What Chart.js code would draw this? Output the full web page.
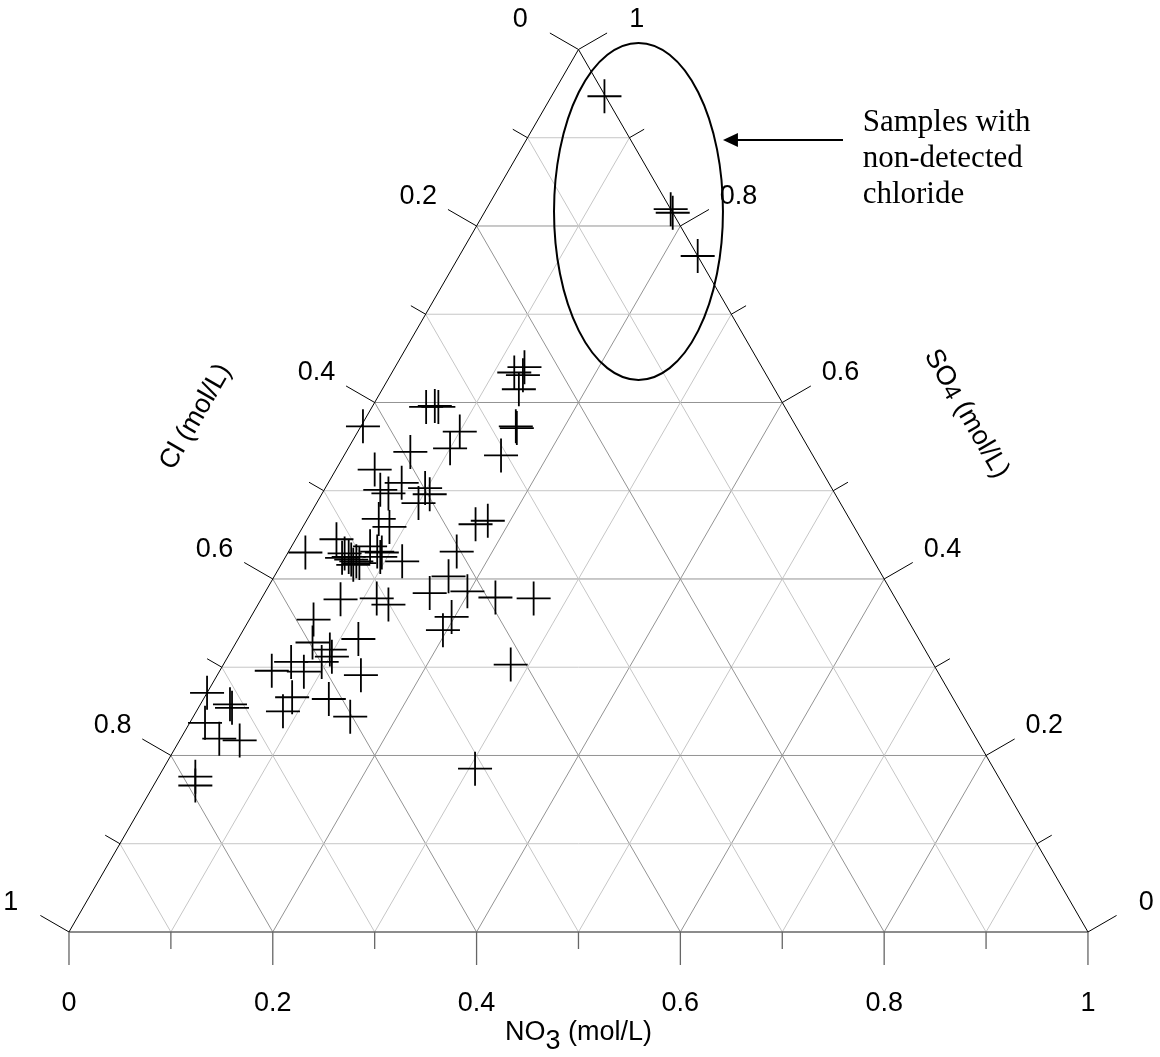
<!DOCTYPE html>
<html>
<head>
<meta charset="utf-8">
<script src="https://cdn.jsdelivr.net/npm/chart.js@4/dist/chart.umd.min.js"></script>
<style>
  html, body { margin: 0; padding: 0; background: #fff; }
  canvas { display: block; }
</style>
</head>
<body>
<canvas id="ternario" width="1160" height="1057"></canvas>
<script>
// fracciones molares (Cl = 1 - NO3 - SO4)
const no3 = [0.052, 0.181, 0.185, 0.234, 0.127, 0.120, 0.130, 0.134, 0.152, 0.154,
  0.154, 0.053, 0.061, 0.065, 0.100, 0.100, 0.002, 0.063, 0.038, 0.072,
  0.055, 0.065, 0.098, 0.106, 0.100, 0.070, 0.085, 0.168, 0.178, 0.165,
  0.017, 0.117, 0.171, 0.162, 0.198, 0.229, 0.267, 0.197, 0.196, 0.078,
  0.113, 0.128, 0.063, 0.118, 0.075, 0.096, 0.102, 0.095, 0.065, 0.051,
  0.083, 0.141, 0.086, 0.085, 0.123, 0.154, 0.000, 0.029, 0.033, 0.015,
  0.038, 0.059, 0.036, 0.041, 0.306, 0.282, 0.040, 0.056, 0.062, 0.066,
  0.071, 0.072, 0.076, 0.056, 0.077, 0.087, 0.093, 0.092];
const so4 = [0.947, 0.819, 0.815, 0.766, 0.640, 0.634, 0.631, 0.615, 0.573, 0.571,
  0.540, 0.595, 0.596, 0.595, 0.567, 0.548, 0.573, 0.544, 0.524, 0.509,
  0.501, 0.497, 0.503, 0.496, 0.486, 0.468, 0.459, 0.462, 0.466, 0.431,
  0.430, 0.420, 0.403, 0.384, 0.386, 0.379, 0.378, 0.357, 0.342, 0.377,
  0.378, 0.371, 0.354, 0.332, 0.328, 0.320, 0.312, 0.306, 0.306, 0.296,
  0.295, 0.291, 0.266, 0.250, 0.264, 0.244, 0.271, 0.258, 0.254, 0.237,
  0.219, 0.217, 0.176, 0.166, 0.185, 0.303, 0.445, 0.429, 0.425, 0.422,
  0.416, 0.420, 0.418, 0.424, 0.437, 0.431, 0.425, 0.430];

const tickValues = [0, 0.2, 0.4, 0.6, 0.8, 1];
const tickLabels = ['0', '0.2', '0.4', '0.6', '0.8', '1'];
const gridSteps = [0.1, 0.2, 0.3, 0.4, 0.5, 0.6, 0.7, 0.8, 0.9];
const minorTicks = [0.1, 0.3, 0.5, 0.7, 0.9];

const H = Math.sqrt(3) / 2;
const TICK = 0.0324, TICK_MENOR = 0.0167, ETIQ = 0.066;

// NO3 a la derecha, SO4 arriba, Cl abajo a la izquierda
function punto(n, s) {
  return { x: n + s / 2, y: s * H };
}
const normalIzq = { x: -H, y: 0.5 };
const normalDer = { x: H, y: 0.5 };
const normalAbajo = { x: 0, y: -1 };

function desplazar(p, d, len) {
  return { x: p.x + d.x * len, y: p.y + d.y * len };
}

function linea(a, b, color, ancho) {
  return {
    type: 'scatter',
    data: [a, b],
    showLine: true,
    borderColor: color,
    borderWidth: ancho,
    pointRadius: 0,
    pointHoverRadius: 0
  };
}

const datasets = [];

datasets.push({
  type: 'scatter',
  label: 'Muestras',
  data: no3.map((n, i) => punto(n, so4[i])),
  pointStyle: 'cross',
  pointRadius: 17,
  pointHoverRadius: 17,
  borderColor: '#000',
  backgroundColor: '#000',
  borderWidth: 1.8
});

// bordes del triangulo
datasets.push(linea(punto(0, 0), punto(0, 1), '#000', 1));
datasets.push(linea(punto(1, 0), punto(0, 1), '#000', 1));
datasets.push(linea(punto(0, 0), punto(1, 0), '#666', 1.5));

// marcas de los ejes
tickValues.concat(minorTicks).forEach(v => {
  const len = minorTicks.includes(v) ? TICK_MENOR : TICK;
  const pb = punto(v, 0);
  datasets.push(linea(pb, desplazar(pb, normalAbajo, len), '#666', 1.3));
  const pl = punto(0, 1 - v);
  datasets.push(linea(pl, desplazar(pl, normalIzq, len), '#000', 1));
  const pr = punto(1 - v, v);
  datasets.push(linea(pr, desplazar(pr, normalDer, len), '#000', 1));
});

// reticula
gridSteps.forEach((k, i) => {
  const color = (i % 2 === 1) ? '#939393' : '#c6c6c6';
  datasets.push(linea(punto(0, k), punto(1 - k, k), color, 1));
  datasets.push(linea(punto(k, 0), punto(k, 1 - k), color, 1));
  datasets.push(linea(punto(1 - k, 0), punto(0, 1 - k), color, 1));
});

const textos = {
  id: 'textos',
  afterDatasetsDraw(chart) {
    const ctx = chart.ctx;
    const sx = chart.scales.x, sy = chart.scales.y;
    const px = p => ({ x: sx.getPixelForValue(p.x), y: sy.getPixelForValue(p.y) });
    const escala = sx.getPixelForValue(1) - sx.getPixelForValue(0);

    ctx.save();
    ctx.fillStyle = '#000';
    ctx.font = '27px "Liberation Sans", Arial, sans-serif';
    ctx.textAlign = 'center';
    ctx.textBaseline = 'middle';
    tickValues.forEach((v, i) => {
      let p = px(desplazar(punto(v, 0), normalAbajo, ETIQ));
      ctx.fillText(tickLabels[i], p.x, p.y + 4);
      p = px(desplazar(punto(0, 1 - v), normalIzq, ETIQ));
      ctx.fillText(tickLabels[i], p.x, p.y + 4);
      p = px(desplazar(punto(1 - v, v), normalDer, ETIQ));
      ctx.fillText(tickLabels[i], p.x, p.y + 4);
    });

    // titulo inferior con subindice
    ctx.textAlign = 'left';
    const t = px(desplazar(punto(0.5, 0), normalAbajo, 0.096));
    const wNO = ctx.measureText('NO').width;
    const w3 = ctx.measureText('3').width;
    const wResto = ctx.measureText(' (mol/L)').width;
    let x0 = t.x - (wNO + w3 + wResto) / 2;
    ctx.fillText('NO', x0, t.y + 3);
    ctx.fillText('3', x0 + wNO, t.y + 12);
    ctx.fillText(' (mol/L)', x0 + wNO + w3, t.y + 3);

    ctx.textAlign = 'center';
    let c = px(desplazar(punto(0, 0.5), normalIzq, 0.145));
    ctx.save();
    ctx.translate(c.x, c.y);
    ctx.rotate(-Math.PI / 3);
    ctx.fillText('Cl (mol/L)', 0, 0);
    ctx.restore();

    c = px(desplazar(punto(0.5, 0.5), normalDer, 0.151));
    ctx.save();
    ctx.translate(c.x, c.y);
    ctx.rotate(Math.PI / 3);
    ctx.textAlign = 'left';
    const wSO = ctx.measureText('SO').width;
    ctx.font = '24px "Liberation Sans", Arial, sans-serif';
    const w4 = ctx.measureText('4').width;
    ctx.font = '27px "Liberation Sans", Arial, sans-serif';
    const wMol = ctx.measureText(' (mol/L)').width;
    x0 = -(wSO + w4 + wMol) / 2;
    ctx.fillText('SO', x0, 0);
    ctx.font = '24px "Liberation Sans", Arial, sans-serif';
    ctx.fillText('4', x0 + wSO, 3);
    ctx.font = '27px "Liberation Sans", Arial, sans-serif';
    ctx.fillText(' (mol/L)', x0 + wSO + w4, 0);
    ctx.restore();

    // elipse de muestras sin cloruro detectado
    const e = px({ x: 0.5589, y: 0.7071 });
    ctx.beginPath();
    ctx.lineWidth = 2;
    ctx.strokeStyle = '#000';
    ctx.ellipse(e.x, e.y, 0.0829 * escala, 0.1654 * escala, 0, 0, Math.PI * 2);
    ctx.stroke();

    // flecha
    const a1 = px({ x: 0.7596, y: 0.7772 });
    const a2 = px({ x: 0.6418, y: 0.7772 });
    ctx.beginPath();
    ctx.moveTo(a1.x, a1.y);
    ctx.lineTo(a2.x + 12, a2.y);
    ctx.stroke();
    ctx.beginPath();
    ctx.moveTo(a2.x, a2.y);
    ctx.lineTo(a2.x + 15, a2.y - 7);
    ctx.lineTo(a2.x + 15, a2.y + 7);
    ctx.closePath();
    ctx.fill();

    ctx.font = '31px "Liberation Serif", "Times New Roman", serif';
    ctx.textAlign = 'left';
    ctx.textBaseline = 'alphabetic';
    const lineas = ['Samples with', 'non-detected', 'chloride'];
    const base = px({ x: 0.7789, y: 0.7863 });
    lineas.forEach((l, i) => ctx.fillText(l, base.x, base.y + i * 36.3));
    ctx.restore();
  }
};

new Chart(document.getElementById('ternario'), {
  type: 'scatter',
  data: { datasets: datasets },
  options: {
    responsive: false,
    animation: false,
    layout: { padding: 0, autoPadding: false },
    plugins: {
      legend: { display: false },
      tooltip: { enabled: false }
    },
    scales: {
      x: { type: 'linear', min: -0.0677, max: 1.0707, display: false },
      y: { type: 'linear', min: -0.1227, max: 0.9146, display: false }
    }
  },
  plugins: [textos]
});
</script>
</body>
</html>
